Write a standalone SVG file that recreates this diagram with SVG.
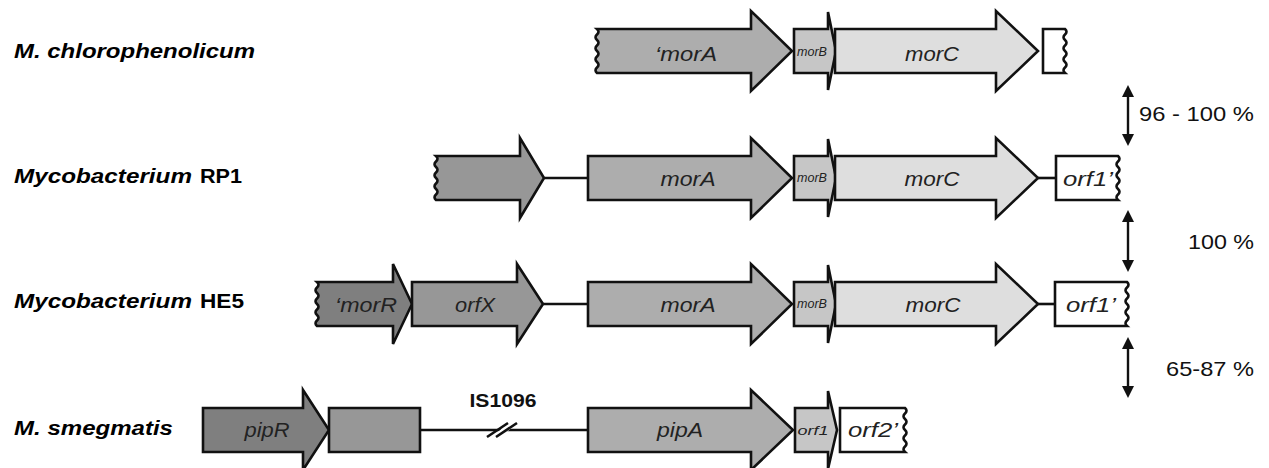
<svg xmlns="http://www.w3.org/2000/svg" width="1269" height="468" viewBox="0 0 1269 468">
<defs>
<style>
.g{stroke:#111;stroke-width:2.6;stroke-linejoin:miter}
.c1{fill:#7f7f7f}.c2{fill:#979797}.c3{fill:#adadad}.c4{fill:#c6c6c6}.c5{fill:#dedede}.c6{fill:#fff}
.ln{stroke:#111;stroke-width:2.6;fill:none}
.sp{fill:none;stroke:#111;stroke-width:2.4;marker-start:url(#ah);marker-end:url(#ah)}
.org{font-family:"Liberation Sans",Arial,sans-serif;font-size:21px;font-weight:bold;font-style:italic;fill:#000}
.orgn{font-family:"Liberation Sans",Arial,sans-serif;font-size:21px;font-weight:bold;fill:#000}
.gl{font-family:"Liberation Sans",Arial,sans-serif;font-size:20.5px;font-style:italic;fill:#222;text-anchor:middle}
.gs{font-family:"Liberation Sans",Arial,sans-serif;font-size:12px;font-style:italic;fill:#222;text-anchor:middle}
.pc{font-family:"Liberation Sans",Arial,sans-serif;font-size:21px;fill:#111}
.is{font-family:"Liberation Sans",Arial,sans-serif;font-size:19px;font-weight:bold;fill:#111;text-anchor:middle}
</style>
<marker id="ah" viewBox="0 0 12 12" refX="2" refY="6" markerWidth="12" markerHeight="12" markerUnits="userSpaceOnUse" orient="auto-start-reverse">
<path d="M0,0 L12,6 L0,12 Z" fill="#111"/>
</marker>
</defs>
<rect width="1269" height="468" fill="#fff"/>

<g id="labels">
<text class="org" x="14" y="58" textLength="241" lengthAdjust="spacingAndGlyphs">M. chlorophenolicum</text>
<text class="org" x="14" y="183" textLength="178" lengthAdjust="spacingAndGlyphs">Mycobacterium</text>
<text class="orgn" x="200" y="183" textLength="42" lengthAdjust="spacingAndGlyphs">RP1</text>
<text class="org" x="14" y="308" textLength="178" lengthAdjust="spacingAndGlyphs">Mycobacterium</text>
<text class="orgn" x="200" y="308" textLength="44" lengthAdjust="spacingAndGlyphs">HE5</text>
<text class="org" x="14" y="435" textLength="159" lengthAdjust="spacingAndGlyphs">M. smegmatis</text>
</g>

<g id="connectors">
<path class="ln" d="M544,178 H588"/>
<path class="ln" d="M1038,178 H1056"/>
<path class="ln" d="M543,304 H588"/>
<path class="ln" d="M1038,304 H1055"/>
<path class="ln" d="M420,430 H588"/>
<polygon points="492,437 501,437 516,424 507,424" fill="#fff"/>
<path class="ln" d="M487,437 L508,423 M496,437 L517,423"/>
<path class="sp" d="M1128,95 V136"/>
<path class="sp" d="M1128,220 V262"/>
<path class="sp" d="M1128,347 V388"/>
</g>

<g id="row1">
<g id="r1-morA"><path class="g c3" d="M597,29 H751 V11 L792,51 L751,91 V73 H597 q-3,-2.75 0,-5.5 t0,-5.5 t0,-5.5 t0,-5.5 t0,-5.5 t0,-5.5 t0,-5.5 t0,-5.5 Z"/>
<text class="gl" x="686" y="61" textLength="62" lengthAdjust="spacingAndGlyphs">‘morA</text></g>
<g id="r1-morB"><path class="g c4" d="M794,29 H828 V12 L836,51 L828,90 V73 H794 Z"/>
<text class="gs" x="812" y="56" textLength="30" lengthAdjust="spacingAndGlyphs">morB</text></g>
<g id="r1-morC"><path class="g c5" d="M835,29 H996 V11 L1038,51 L996,91 V73 H835 Z"/>
<text class="gl" x="932" y="61" textLength="54" lengthAdjust="spacingAndGlyphs">morC</text></g>
<g id="r1-orf"><path class="g c6" d="M1043,29 H1065 q3,2.75 0,5.5 t0,5.5 t0,5.5 t0,5.5 t0,5.5 t0,5.5 t0,5.5 t0,5.5 H1043 Z"/></g>
</g>

<g id="row2">
<g id="r2-orf"><path class="g c2" d="M436,156 H520 V138 L544,178 L520,218 V200 H436 q-3,-2.75 0,-5.5 t0,-5.5 t0,-5.5 t0,-5.5 t0,-5.5 t0,-5.5 t0,-5.5 t0,-5.5 Z"/></g>
<g id="r2-morA"><path class="g c3" d="M588,156 H751 V138 L792,178 L751,218 V200 H588 Z"/>
<text class="gl" x="688" y="186" textLength="55" lengthAdjust="spacingAndGlyphs">morA</text></g>
<g id="r2-morB"><path class="g c4" d="M794,156 H828 V139 L836,178 L828,217 V200 H794 Z"/>
<text class="gs" x="812" y="182" textLength="30" lengthAdjust="spacingAndGlyphs">morB</text></g>
<g id="r2-morC"><path class="g c5" d="M835,156 H996 V138 L1038,178 L996,218 V200 H835 Z"/>
<text class="gl" x="932" y="186" textLength="55" lengthAdjust="spacingAndGlyphs">morC</text></g>
<g id="r2-orf1"><path class="g c6" d="M1056,156 H1118 q3,2.75 0,5.5 t0,5.5 t0,5.5 t0,5.5 t0,5.5 t0,5.5 t0,5.5 t0,5.5 H1056 Z"/>
<text class="gl" x="1088" y="186" textLength="50" lengthAdjust="spacingAndGlyphs">orf1’</text></g>
</g>

<g id="row3">
<g id="r3-morR"><path class="g c1" d="M317,282 H393 V264 L412,304 L393,344 V326 H317 q-3,-2.75 0,-5.5 t0,-5.5 t0,-5.5 t0,-5.5 t0,-5.5 t0,-5.5 t0,-5.5 t0,-5.5 Z"/>
<text class="gl" x="366" y="312" textLength="62" lengthAdjust="spacingAndGlyphs">‘morR</text></g>
<g id="r3-orfX"><path class="g c2" d="M412,282 H517 V264 L543,304 L517,344 V326 H412 Z"/>
<text class="gl" x="475" y="312" textLength="40" lengthAdjust="spacingAndGlyphs">orfX</text></g>
<g id="r3-morA"><path class="g c3" d="M588,282 H751 V264 L792,304 L751,344 V326 H588 Z"/>
<text class="gl" x="688" y="312" textLength="55" lengthAdjust="spacingAndGlyphs">morA</text></g>
<g id="r3-morB"><path class="g c4" d="M794,282 H828 V265 L836,304 L828,343 V326 H794 Z"/>
<text class="gs" x="812" y="308" textLength="30" lengthAdjust="spacingAndGlyphs">morB</text></g>
<g id="r3-morC"><path class="g c5" d="M835,282 H996 V264 L1038,304 L996,344 V326 H835 Z"/>
<text class="gl" x="933" y="312" textLength="55" lengthAdjust="spacingAndGlyphs">morC</text></g>
<g id="r3-orf1"><path class="g c6" d="M1055,282 H1127 q3,2.75 0,5.5 t0,5.5 t0,5.5 t0,5.5 t0,5.5 t0,5.5 t0,5.5 t0,5.5 H1055 Z"/>
<text class="gl" x="1091" y="312" textLength="50" lengthAdjust="spacingAndGlyphs">orf1’</text></g>
</g>

<g id="row4">
<g id="r4-pipR"><path class="g c1" d="M203,408 H303 V390 L329,430 L303,470 V452 H203 Z"/>
<text class="gl" x="267" y="437" textLength="45" lengthAdjust="spacingAndGlyphs">pipR</text></g>
<g id="r4-box"><path class="g c2" d="M329,408 H420 V452 H329 Z"/></g>
<g id="r4-IS"><text class="is" x="503" y="407" textLength="67" lengthAdjust="spacingAndGlyphs">IS1096</text></g>
<g id="r4-pipA"><path class="g c3" d="M588,408 H751 V390 L793,430 L751,470 V452 H588 Z"/>
<text class="gl" x="680" y="437" textLength="46" lengthAdjust="spacingAndGlyphs">pipA</text></g>
<g id="r4-orf1"><path class="g c4" d="M795,408 H828 V391 L837,430 L828,469 V452 H795 Z"/>
<text class="gs" x="813" y="435" textLength="31" lengthAdjust="spacingAndGlyphs">orf1</text></g>
<g id="r4-orf2"><path class="g c6" d="M840,408 H905 q3,2.75 0,5.5 t0,5.5 t0,5.5 t0,5.5 t0,5.5 t0,5.5 t0,5.5 t0,5.5 H840 Z"/>
<text class="gl" x="873" y="437" textLength="50" lengthAdjust="spacingAndGlyphs">orf2’</text></g>
</g>

<g id="similarity">
<text class="pc" x="1139" y="121" textLength="115" lengthAdjust="spacingAndGlyphs">96 - 100 %</text>
<text class="pc" x="1188" y="249" textLength="66" lengthAdjust="spacingAndGlyphs">100 %</text>
<text class="pc" x="1166" y="376" textLength="88" lengthAdjust="spacingAndGlyphs">65-87 %</text>
</g>
</svg>
